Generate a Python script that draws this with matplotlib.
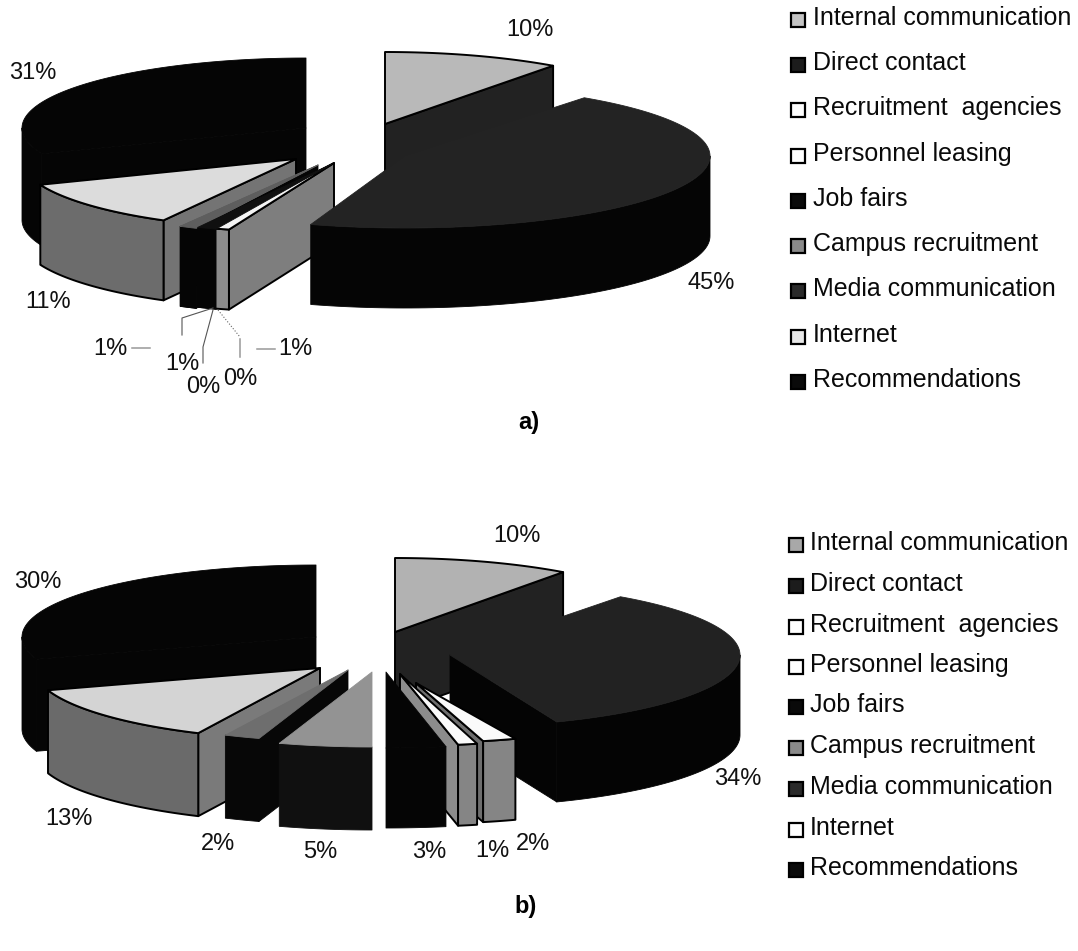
import numpy as np
import matplotlib
matplotlib.use("Agg")
import matplotlib.pyplot as plt
from matplotlib.patches import Polygon, Rectangle

plt.rcParams["font.family"] = ["Liberation Sans", "DejaVu Sans"]

CATEGORIES = ["Internal communication", "Direct contact", "Recruitment  agencies",
              "Personnel leasing", "Job fairs", "Campus recruitment",
              "Media communication", "Internet", "Recommendations"]
VALUES_A = [10, 45, 1, 0, 0, 1, 1, 11, 31]
VALUES_B = [10, 34, 2, 1, 3, 5, 2, 13, 30]

# (apex x, apex y, x radius, y radius, depth) of every exploded slice, in pixels
LAYOUT_A = {0: (385, 124, 286, 72, 80), 1: (405, 156, 305, 72, 80),
            2: (334, 163, 340, 70, 80), 5: (332, 164, 315, 70, 80),
            6: (318, 165, 286, 70, 80), 7: (296, 159, 275, 70, 80),
            8: (306, 128, 284, 70, 92)}
LAYOUT_B = {0: (395, 632, 286, 74, 80), 1: (450, 655, 290, 72, 80),
            2: (416, 683, 270, 60, 81), 3: (400, 674, 310, 72, 81),
            4: (386, 672, 320, 76, 80), 5: (372, 672, 300, 75, 83),
            6: (348, 670, 288, 72, 83), 7: (320, 668, 286, 72, 83),
            8: (316, 637, 294, 72, 92)}

# painting order, back to front; "front" repaints only the top and rim of a slice
ORDER_A = [(8, "all"), (0, "all"), (7, "all"), (6, "all"), (5, "all"), (2, "all"),
           (1, "all"), (6, "front"), (5, "front")]
ORDER_B = [(8, "all"), (0, "all"), (7, "all"), (6, "all"), (5, "all"), (1, "all"),
           (2, "all"), (3, "all"), (4, "all")]

# (top, rim, radial face, outline) per category
STYLE_A = {0: ("#b9b9b9", "#1c1c1c", "#222222", "black"),
           1: ("#232323", "#050505", "#050505", None),
           2: ("#f4f4f4", "#8c8c8c", "#7e7e7e", "black"),
           5: ("#101010", "#050505", "#050505", None),
           6: ("#5e5e5e", "#050505", "#050505", None),
           7: ("#dcdcdc", "#6c6c6c", "#747474", "black"),
           8: ("#050505", "#050505", "#050505", None)}
STYLE_B = {0: ("#b2b2b2", "#1c1c1c", "#222222", "black"),
           1: ("#222222", "#040404", "#040404", None),
           2: ("#fafafa", "#858585", "#6e6e6e", "black"),
           3: ("#fafafa", "#858585", "#8c8c8c", "black"),
           4: ("#050505", "#050505", "#050505", None),
           5: ("#939393", "#101010", "#101010", None),
           6: ("#6e6e6e", "#070707", "#070707", None),
           7: ("#d4d4d4", "#6a6a6a", "#7a7a7a", "black"),
           8: ("#050505", "#050505", "#050505", None)}

LEGEND_FILL_A = ["#c4c4c4", "#1c1c1c", "#ffffff", "#ffffff", "#0a0a0a",
                 "#8a8a8a", "#2a2a2a", "#e8e8e8", "#0a0a0a"]
LEGEND_FILL_B = ["#a8a8a8", "#1c1c1c", "#ffffff", "#ffffff", "#0a0a0a",
                 "#8a8a8a", "#2a2a2a", "#ffffff", "#0a0a0a"]
LEGEND_ROWS_A = [16, 61, 106, 152, 197, 242, 287, 333, 378]
LEGEND_ROWS_B = [541, 582, 623, 663, 703, 744, 785, 826, 866]

LABELS_A = {0: (530, 30), 1: (711, 283), 2: (295, 349), 3: (240, 379), 4: (203, 387),
            5: (182, 364), 6: (110, 349), 7: (48, 302), 8: (33, 73)}
LABELS_B = {0: (517, 536), 1: (738, 779), 2: (533, 844), 3: (492, 851), 4: (429, 852),
            5: (320, 852), 6: (218, 844), 7: (69, 819), 8: (38, 582)}


def rim_point(apex, rx, ry, theta):
    """Screen position on the top ellipse; theta runs clockwise from 12 o'clock."""
    rad = np.radians(theta)
    return apex[0] + rx * np.sin(rad), apex[1] - ry * np.cos(rad)


def draw_slice(ax, layout, style, start, stop, part, z):
    cx, cy, rx, ry, depth = layout
    top, rim, face, edge = style
    width = 1.4 if edge else 0.6

    def add(points, colour):
        nonlocal z
        ax.add_patch(Polygon(points, closed=True, facecolor=colour, zorder=z,
                             edgecolor=edge or colour, linewidth=width,
                             joinstyle="round"))
        z += 1

    if part == "all":
        # radial walls facing the viewer
        for theta, sign in ((start, -1), (stop, 1)):
            if sign * np.sin(np.radians(theta)) > 1e-6:
                x, y = rim_point((cx, cy), rx, ry, theta)
                add([(cx, cy), (x, y), (x, y + depth), (cx, cy + depth)], face)

    # curved rim, front half of the ellipse only
    lo, hi = max(start, 90), min(stop, 270)
    if hi > lo:
        th = np.linspace(lo, hi, 80)
        xs, ys = rim_point((cx, cy), rx, ry, th)
        upper = np.column_stack([xs, ys])
        lower = np.column_stack([xs, ys + depth])[::-1]
        add(np.vstack([upper, lower]), rim)

    th = np.linspace(start, stop, 120)
    xs, ys = rim_point((cx, cy), rx, ry, th)
    add(np.vstack([[(cx, cy)], np.column_stack([xs, ys])]), top)
    return z


def draw_pie(ax, values, layouts, styles, order):
    edges = np.concatenate([[0], np.cumsum(values)]) * 3.6
    z = 2
    for idx, part in order:
        z = draw_slice(ax, layouts[idx], styles[idx], edges[idx], edges[idx + 1], part, z)


def draw_legend(ax, fills, rows, box_x, text_x):
    for name, fill, y in zip(CATEGORIES, fills, rows):
        ax.add_patch(Rectangle((box_x, y - 3), 14, 14, facecolor=fill,
                               edgecolor="black", linewidth=1.6, zorder=50))
        ax.text(text_x, y + 2, name, fontsize=18, va="center", ha="left", color="#0a0a0a")


def draw_labels(ax, values, anchors):
    for idx, (x, y) in anchors.items():
        ax.text(x, y, f"{values[idx]}%", fontsize=17, ha="center", va="center",
                color="#111111", zorder=60)


fig = plt.figure(figsize=(10.78, 9.51), dpi=100)
ax = fig.add_axes([0, 0, 1, 1])
ax.set_xlim(0, 1078)
ax.set_ylim(951, 0)
ax.axis("off")

draw_pie(ax, VALUES_A, LAYOUT_A, STYLE_A, ORDER_A)
draw_pie(ax, VALUES_B, LAYOUT_B, STYLE_B, ORDER_B)
draw_legend(ax, LEGEND_FILL_A, LEGEND_ROWS_A, 791, 813)
draw_legend(ax, LEGEND_FILL_B, LEGEND_ROWS_B, 789, 810)
draw_labels(ax, VALUES_A, LABELS_A)
draw_labels(ax, VALUES_B, LABELS_B)

# leader lines for the crowded small slices
ax.plot([182, 182, 213], [335, 318, 308], color="#555555", lw=0.8, zorder=40)
ax.plot([203, 203, 213], [363, 347, 310], color="#555555", lw=0.8, zorder=40)
ax.plot([218, 240], [310, 337], color="#666666", lw=0.8, ls=":", zorder=40)
ax.plot([240, 240], [339, 357], color="#999999", lw=1.1, zorder=40)
ax.plot([132, 150], [348, 348], color="#999999", lw=1.1, zorder=40)
ax.plot([257, 275], [349, 349], color="#999999", lw=1.1, zorder=40)

ax.text(529, 423, "a)", fontsize=17, fontweight="bold", ha="center", va="center")
ax.text(526, 907, "b)", fontsize=17, fontweight="bold", ha="center", va="center")

fig.savefig("out.png", dpi=100, facecolor="white")
